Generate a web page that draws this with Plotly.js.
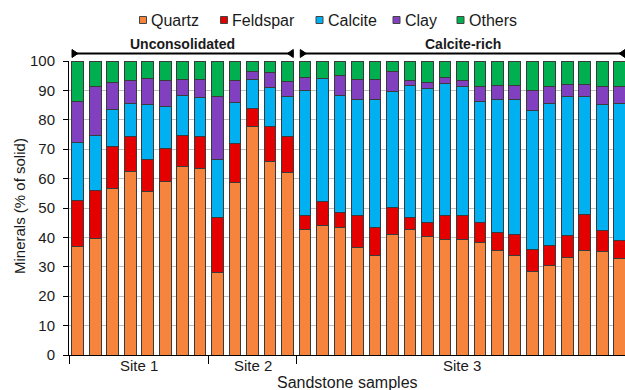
<!DOCTYPE html>
<html>
<head>
<meta charset="utf-8">
<script src="https://cdn.plot.ly/plotly-3.0.1.min.js"></script>
<style>html,body{margin:0;padding:0;background:#fff;}#chart{width:625px;height:390px;}</style>
</head>
<body>
<div id="chart"></div>
<script>
// ---- data ----
var minerals = ['Quartz', 'Feldspar', 'Calcite', 'Clay', 'Others'];
var quartz   = [37.0, 39.6, 56.6, 62.4, 55.6, 58.9, 64.0, 63.5, 28.1, 58.6, 77.7, 65.8, 62.2, 42.7, 44.1, 43.5, 36.6, 33.9, 41.1, 42.7, 40.3, 39.4, 39.4, 38.3, 35.6, 33.9, 28.5, 30.5, 33.0, 35.4, 35.2, 32.8];
var feldspar = [15.5, 16.5, 14.4, 11.8, 10.9, 11.3, 10.6, 10.7, 18.8, 13.3, 6.3, 11.8, 12.0, 4.8, 8.2, 5.0, 10.7, 9.5, 9.0, 4.1, 4.7, 7.9, 8.1, 6.8, 6.1, 7.2, 7.5, 6.8, 7.8, 12.4, 7.0, 6.0];
var calcite  = [19.8, 18.5, 12.5, 11.4, 18.8, 14.3, 13.6, 13.3, 19.7, 13.9, 9.7, 13.3, 13.8, 42.6, 41.7, 39.9, 39.7, 43.6, 39.4, 44.8, 45.8, 44.9, 43.9, 41.1, 45.1, 45.7, 47.1, 48.1, 47.2, 40.2, 43.1, 46.8];
var clay     = [14.0, 16.8, 9.1, 7.6, 8.7, 8.8, 5.5, 6.2, 21.4, 7.7, 2.7, 5.1, 4.9, 4.2, 0.0, 6.6, 6.7, 6.7, 6.9, 1.7, 2.0, 2.1, 2.1, 5.1, 5.0, 5.0, 6.9, 6.0, 4.1, 4.1, 6.1, 5.8];
var others   = [13.7, 8.6, 7.4, 6.8, 6.0, 6.7, 6.3, 6.3, 12.0, 6.5, 3.6, 4.0, 7.1, 5.7, 6.0, 5.0, 6.3, 6.3, 3.6, 6.7, 7.2, 5.7, 6.5, 8.7, 8.2, 8.2, 10.0, 8.6, 7.9, 7.9, 8.6, 8.6];
var siteNames  = ['Site 1', 'Site 2', 'Site 3'];
var siteCounts = [8, 5, 19];
var groupNames = ['Unconsolidated', 'Calcite-rich'];
var groupSites = [[0, 1], [2]];
var yTicks = [0, 10, 20, 30, 40, 50, 60, 70, 80, 90, 100];

// ---- styling ----
var colors = ['#F7843C', '#E50000', '#00B0F0', '#8040C0', '#00B050'];
var FONT = 'Liberation Sans, Arial, Helvetica, sans-serif';
var TXT = '#1a1a1a';
var W = 625, H = 390;
var M = {l: 69, r: 0, t: 61, b: 35};
var PW = W - M.l - M.r, PH = H - M.t - M.b;
function px(x) { return (x - M.l) / PW; }
function py(y) { return (H - M.b - y) / PH; }

var series = [quartz, feldspar, calcite, clay, others];
var xs = quartz.map(function (_, i) { return i; });

var traces = series.map(function (vals, k) {
  return {
    type: 'bar', name: minerals[k], x: xs, y: vals,
    marker: {color: colors[k], line: {color: '#3a3a3a', width: 1}},
    showlegend: false, hoverinfo: 'name+y'
  };
});

// site boundaries
var starts = [], ends = [], acc = 0;
siteCounts.forEach(function (c) { starts.push(acc); ends.push(acc + c - 1); acc += c; });
var boundaries = starts.map(function (s) { return s - 0.5; });

var shapes = [], annotations = [];

// site labels
siteNames.forEach(function (n, i) {
  annotations.push({xref: 'x', yref: 'paper', x: (starts[i] + ends[i]) / 2, y: py(365),
    text: n, showarrow: false, xanchor: 'center', yanchor: 'middle',
    font: {family: FONT, size: 15, color: TXT}});
});
annotations.push({xref: 'paper', yref: 'paper', x: 0.5, y: py(382), text: 'Sandstone samples',
  showarrow: false, xanchor: 'center', yanchor: 'middle', font: {family: FONT, size: 16, color: TXT}});
annotations.push({xref: 'paper', yref: 'paper', x: px(19), y: py(206), text: 'Minerals (% of solid)',
  textangle: -90, showarrow: false, xanchor: 'center', yanchor: 'middle', font: {family: FONT, size: 15, color: TXT}});

// group brackets
var xScale = PW / (31.3 + 0.5);
function dataToPx(d) { return M.l + (d + 0.5) * xScale; }
var lineY = 53.5;
groupNames.forEach(function (g, gi) {
  var sIdx = groupSites[gi];
  var x0 = dataToPx(starts[sIdx[0]] - 0.5) + (gi === 0 ? 3 : 4);
  var x1 = Math.min(dataToPx(ends[sIdx[sIdx.length - 1]] + 0.5) - (gi === 0 ? 3 : 3), W);
  if (gi === 1) x1 = W;
  shapes.push({type: 'line', xref: 'paper', yref: 'paper', x0: px(x0), x1: px(x1), y0: py(lineY), y1: py(lineY),
    line: {color: '#000', width: 2}});
  // inward-pointing triangles
  shapes.push({type: 'path', xref: 'paper', yref: 'paper',
    path: 'M' + px(x0) + ',' + py(lineY - 4) + ' L' + px(x0 + 6) + ',' + py(lineY) + ' L' + px(x0) + ',' + py(lineY + 4) + ' Z',
    fillcolor: '#000', line: {color: '#000', width: 1}});
  shapes.push({type: 'path', xref: 'paper', yref: 'paper',
    path: 'M' + px(x1) + ',' + py(lineY - 4) + ' L' + px(x1 - 6) + ',' + py(lineY) + ' L' + px(x1) + ',' + py(lineY + 4) + ' Z',
    fillcolor: '#000', line: {color: '#000', width: 1}});
  annotations.push({xref: 'paper', yref: 'paper', x: px((x0 + x1) / 2), y: py(43.5), text: '<b>' + g + '</b>',
    showarrow: false, xanchor: 'center', yanchor: 'middle', font: {family: FONT, size: 14, color: TXT}});
});

// manual legend
var legSq = [139.5, 220.5, 316, 393, 457];
minerals.forEach(function (m, k) {
  var x = legSq[k];
  shapes.push({type: 'rect', xref: 'paper', yref: 'paper', x0: px(x), x1: px(x + 7), y0: py(23.5), y1: py(16.5),
    fillcolor: colors[k], line: {color: '#444', width: 1}});
  annotations.push({xref: 'paper', yref: 'paper', x: px(x + 9.5), y: py(20.5), text: m, showarrow: false,
    xanchor: 'left', yanchor: 'middle', font: {family: FONT, size: 16, color: TXT}});
});

var layout = {
  width: W, height: H, margin: M, paper_bgcolor: '#fff', plot_bgcolor: '#fff',
  barmode: 'stack', bargap: 0.33, showlegend: false,
  font: {family: FONT, size: 15, color: TXT},
  xaxis: {range: [-0.5, 31.3], showgrid: false, zeroline: false, showline: true, linecolor: '#000', linewidth: 1,
    tickmode: 'array', tickvals: boundaries, ticktext: boundaries.map(function () { return ''; }),
    ticks: 'outside', ticklen: 8, tickcolor: '#000', tickwidth: 1, fixedrange: true},
  yaxis: {range: [0, 100], tickmode: 'array', tickvals: yTicks, showgrid: true, gridcolor: '#C0C0C0', gridwidth: 1,
    zeroline: false, showline: true, linecolor: '#000', linewidth: 1, ticks: 'outside', ticklen: 5, tickcolor: '#000',
    tickfont: {family: FONT, size: 15, color: TXT}, ticklabelstandoff: 5, fixedrange: true},
  shapes: shapes, annotations: annotations
};

Plotly.newPlot('chart', traces, layout, {displayModeBar: false, staticPlot: true});
</script>
</body>
</html>
